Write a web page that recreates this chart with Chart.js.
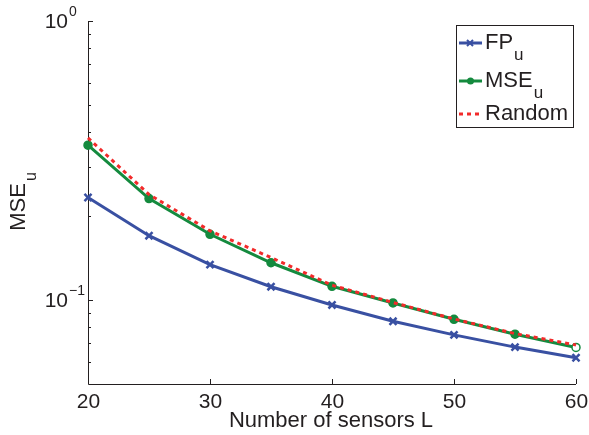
<!DOCTYPE html>
<html>
<head>
<meta charset="utf-8">
<script src="https://cdn.jsdelivr.net/npm/chart.js@4"></script>
<style>
  html, body { margin: 0; padding: 0; background: #fff; }
  #wrap { width: 589px; height: 435px; }
</style>
</head>
<body>
<div id="wrap"><canvas id="chart" width="589" height="435"></canvas></div>
<script>
// Data
const sensors = [20, 25, 30, 35, 40, 45, 50, 55, 60];
const fpU = [0.233, 0.170, 0.134, 0.1116, 0.096, 0.0839, 0.075, 0.0678, 0.0621];
const mseU = [0.359, 0.231, 0.172, 0.136, 0.112, 0.0976, 0.0853, 0.0754, 0.0676];
const randomU = [0.381, 0.239, 0.177, 0.142, 0.113, 0.098, 0.0855, 0.0758, 0.069];

const xTicks = [20, 30, 40, 50, 60];
const yMajor = [{ v: 1, exp: '0' }, { v: 0.1, exp: '\u22121' }];
const yMinor = [0.06, 0.07, 0.08, 0.09, 0.2, 0.3, 0.4, 0.5, 0.6, 0.7, 0.8, 0.9];

const FONT = '"Liberation Sans", Arial, sans-serif';
const TEXT = '#231f20';

function toPoints(ys) {
    return sensors.map((x, i) => ({ x: x, y: ys[i] }));
}

// Axes drawn the MATLAB way: left + bottom only, ticks pointing inward
const axesPlugin = {
    id: 'matlabAxes',
    beforeDatasetsDraw(chart) {
        const ctx = chart.ctx;
        const xs = chart.scales.x, ys = chart.scales.y;
        const left = xs.getPixelForValue(20), right = xs.getPixelForValue(60);
        const top = ys.getPixelForValue(1), bottom = ys.getPixelForValue(0.05);
        ctx.save();
        ctx.strokeStyle = TEXT;
        ctx.lineWidth = 1;
        ctx.beginPath();
        ctx.moveTo(left + 0.5, top);
        ctx.lineTo(left + 0.5, bottom + 0.5);
        ctx.lineTo(right, bottom + 0.5);
        ctx.stroke();

        // x ticks and labels
        ctx.fillStyle = TEXT;
        ctx.font = '21px ' + FONT;
        ctx.textAlign = 'center';
        ctx.textBaseline = 'middle';
        xTicks.forEach(v => {
            const px = Math.round(xs.getPixelForValue(v)) + 0.5;
            ctx.beginPath();
            ctx.moveTo(px, bottom);
            ctx.lineTo(px, bottom - 5);
            ctx.stroke();
            ctx.fillText(String(v), px, bottom + 18);
        });

        // y ticks
        yMinor.forEach(v => {
            const py = Math.round(ys.getPixelForValue(v)) + 0.5;
            ctx.beginPath();
            ctx.moveTo(left, py);
            ctx.lineTo(left + 3, py);
            ctx.stroke();
        });
        yMajor.forEach(t => {
            const py = Math.round(ys.getPixelForValue(t.v)) + 0.5;
            ctx.beginPath();
            ctx.moveTo(left, py);
            ctx.lineTo(left + 5, py);
            ctx.stroke();
            // "10" with superscript exponent
            ctx.font = '21px ' + FONT;
            ctx.textAlign = 'right';
            ctx.fillText('10', left - 20, py + 1);
            ctx.font = '14px ' + FONT;
            ctx.textAlign = 'left';
            ctx.fillText(t.exp, left - 19, py - 9);
        });

        // axis titles
        ctx.font = '22px ' + FONT;
        ctx.textAlign = 'center';
        ctx.fillText('Number of sensors L', 331, 421);

        ctx.save();
        ctx.translate(19, 207);
        ctx.rotate(-Math.PI / 2);
        ctx.font = '22px ' + FONT;
        ctx.textAlign = 'center';
        ctx.fillText('MSE', 0, 0);
        ctx.font = '16px ' + FONT;
        ctx.textAlign = 'left';
        ctx.fillText('u', 26, 13);
        ctx.restore();
        ctx.restore();
    },
    afterDraw(chart) {
        // legend box with subscripts
        const ctx = chart.ctx;
        const bx = 456, by = 25, bw = 117, bh = 102;
        ctx.save();
        ctx.fillStyle = '#fff';
        ctx.fillRect(bx, by, bw, bh);
        ctx.strokeStyle = TEXT;
        ctx.lineWidth = 1;
        ctx.strokeRect(bx + 0.5, by + 0.5, bw, bh);

        const entries = [
            { name: 'FP', sub: 'u', y: 43, ds: 0 },
            { name: 'MSE', sub: 'u', y: 81, ds: 1 },
            { name: 'Random', sub: '', y: 114, ds: 2 }
        ];
        entries.forEach(e => {
            const d = chart.data.datasets[e.ds];
            ctx.strokeStyle = d.borderColor;
            ctx.lineWidth = d.borderWidth;
            ctx.setLineDash(d.borderDash || []);
            ctx.beginPath();
            ctx.moveTo(459, e.y);
            ctx.lineTo(482, e.y);
            ctx.stroke();
            ctx.setLineDash([]);
            if (e.ds === 0) {
                ctx.lineWidth = 2;
                ctx.beginPath();
                ctx.moveTo(467, e.y - 3); ctx.lineTo(473, e.y + 3);
                ctx.moveTo(473, e.y - 3); ctx.lineTo(467, e.y + 3);
                ctx.stroke();
            } else if (e.ds === 1) {
                ctx.fillStyle = d.borderColor;
                ctx.beginPath();
                ctx.arc(470.5, e.y, 3.5, 0, Math.PI * 2);
                ctx.fill();
            }
            ctx.fillStyle = TEXT;
            ctx.font = '22px ' + FONT;
            ctx.textAlign = 'left';
            ctx.textBaseline = 'middle';
            ctx.fillText(e.name, 485, e.y);
            if (e.sub) {
                const w = ctx.measureText(e.name).width;
                ctx.font = '17px ' + FONT;
                ctx.fillText(e.sub, 485 + w + 1, e.y + 12);
            }
        });
        ctx.restore();
    }
};

new Chart(document.getElementById('chart'), {
    type: 'line',
    data: {
        datasets: [
            {
                label: 'FPu',
                data: toPoints(fpU),
                borderColor: '#3950a2',
                backgroundColor: '#3950a2',
                borderWidth: 3,
                pointStyle: 'crossRot',
                pointRadius: 5,
                pointBorderWidth: 2.5,
                order: 2
            },
            {
                label: 'MSEu',
                data: toPoints(mseU),
                borderColor: '#148a3e',
                backgroundColor: '#148a3e',
                borderWidth: 3,
                pointStyle: 'circle',
                pointRadius: 4,
                pointBorderWidth: 1.5,
                pointBackgroundColor: sensors.map((x, i) => i === sensors.length - 1 ? '#ffffff' : '#148a3e'),
                order: 3
            },
            {
                label: 'Random',
                data: toPoints(randomU),
                borderColor: '#f22a2a',
                backgroundColor: '#f22a2a',
                borderWidth: 3,
                borderDash: [4, 4],
                pointRadius: 0,
                order: 1
            }
        ]
    },
    options: {
        responsive: false,
        animation: false,
        clip: false,
        layout: { padding: { left: 88, right: 13, top: 21, bottom: 51 } },
        plugins: { legend: { display: false }, tooltip: { enabled: false } },
        scales: {
            x: { type: 'linear', min: 20, max: 60, display: false },
            y: { type: 'logarithmic', min: 0.05, max: 1, display: false }
        }
    },
    plugins: [axesPlugin]
});
</script>
</body>
</html>
